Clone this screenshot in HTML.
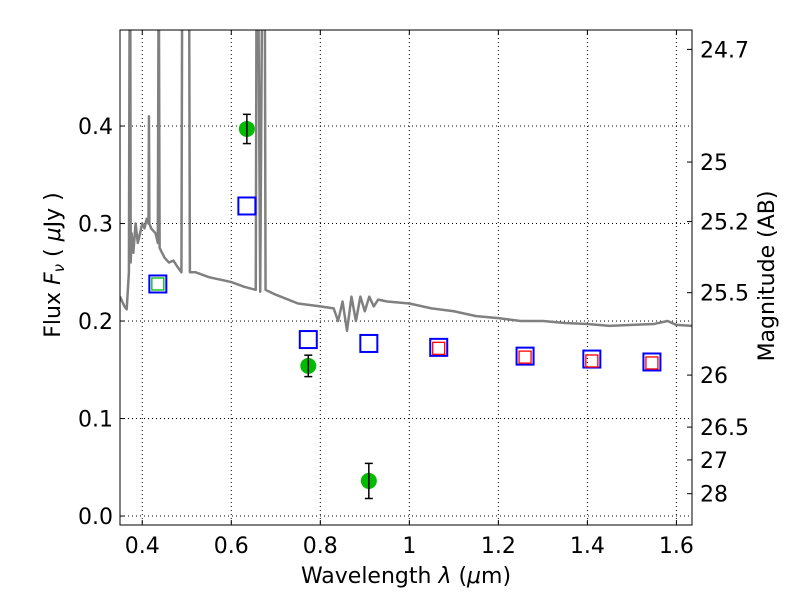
<!DOCTYPE html>
<html><head><meta charset="utf-8"><style>body{margin:0;background:#fff}svg text{font-family:"DejaVu Sans","Liberation Sans",sans-serif}</style></head>
<body>
<svg id="chart" width="800" height="600"></svg>
<script>
const xTicks=[0.4,0.6,0.8,1.0,1.2,1.4,1.6];
const xTickLabels=["0.4","0.6","0.8","1","1.2","1.4","1.6"];
const yTicks=[0,0.1,0.2,0.3,0.4];
const yTickLabels=["0.0","0.1","0.2","0.3","0.4"];
const magTicks=[24.7,25,25.2,25.5,26,26.5,27,28];
const specWave=[0.35,0.36,0.365,0.37,0.372,0.373,0.374,0.376,0.38,0.385,0.39,0.395,0.40,0.405,0.41,0.414,0.415,0.416,0.42,0.43,0.435,0.437,0.439,0.45,0.46,0.47,0.48,0.488,0.49,0.495,0.50,0.505,0.507,0.52,0.55,0.60,0.63,0.655,0.657,0.66,0.665,0.67,0.675,0.677,0.70,0.75,0.80,0.83,0.84,0.85,0.86,0.87,0.88,0.89,0.90,0.91,0.92,0.93,0.95,1.0,1.05,1.1,1.15,1.2,1.25,1.3,1.35,1.4,1.45,1.5,1.55,1.58,1.6,1.635];
const specFlux=[0.225,0.215,0.212,0.25,0.6,0.6,0.26,0.29,0.27,0.3,0.28,0.29,0.3,0.295,0.305,0.3,0.41,0.3,0.295,0.29,0.28,0.6,0.275,0.265,0.26,0.262,0.255,0.25,0.6,0.6,0.6,0.6,0.25,0.25,0.245,0.24,0.235,0.232,0.6,0.6,0.23,0.6,0.6,0.232,0.227,0.218,0.215,0.213,0.2,0.22,0.19,0.225,0.2,0.225,0.21,0.225,0.215,0.222,0.22,0.218,0.213,0.21,0.205,0.203,0.2,0.2,0.198,0.197,0.195,0.196,0.197,0.2,0.196,0.195];
const photWave=[0.635,0.773,0.909];
const photFlux=[0.397,0.154,0.036];
const photErr=[0.015,0.011,0.018];
const modelWave=[0.435,0.635,0.773,0.909,1.066,1.26,1.41,1.545];
const modelFlux=[0.238,0.318,0.181,0.177,0.173,0.164,0.161,0.158];
const redWave=[1.066,1.26,1.41,1.545];
const redFlux=[0.172,0.163,0.159,0.157];
const greenWave=[0.435];
const greenFlux=[0.238];

const L=120,R=692,T=30,B=525,xmin=0.35,xmax=1.635,ymin=-0.0092,ymax=0.4985;
const X=v=>L+(v-xmin)/(xmax-xmin)*(R-L);
const Y=v=>B-(v-ymin)/(ymax-ymin)*(B-T);
const svg=document.getElementById('chart');
const NS='http://www.w3.org/2000/svg';
function mk(tag,attrs,parent){const e=document.createElementNS(NS,tag);for(const k in attrs)e.setAttribute(k,attrs[k]);(parent||svg).appendChild(e);return e;}
const defs=mk('defs',{});const cp=mk('clipPath',{id:'clip'},defs);mk('rect',{x:L,y:T,width:R-L,height:B-T},cp);

xTicks.forEach((t,i)=>{const x=X(t);
 const g=mk('line',{x1:x,x2:x,y1:T,y2:B,stroke:'#000','stroke-dasharray':'1,3','stroke-width':1});
 
 mk('line',{x1:x,x2:x,y1:B,y2:B-5,stroke:'#000'});mk('line',{x1:x,x2:x,y1:T,y2:T+5,stroke:'#000'});
 const tx=mk('text',{x:x,y:B+28,'font-size':22,'text-anchor':'middle'});tx.textContent=xTickLabels[i];
 });
yTicks.forEach((t,i)=>{const y=Y(t);
 const g=mk('line',{x1:L,x2:R,y1:y,y2:y,stroke:'#000','stroke-dasharray':'1,3','stroke-width':1});
 
 mk('line',{x1:L,x2:L+5,y1:y,y2:y,stroke:'#000'});
 const tx=mk('text',{x:L-7,y:y+8,'font-size':22,'text-anchor':'end'});tx.textContent=yTickLabels[i];
 });
magTicks.forEach(m=>{const f=Math.pow(10,(23.9-m)/2.5);const y=Y(f);
 mk('line',{x1:R,x2:R-5,y1:y,y2:y,stroke:'#000'});
 const tx=mk('text',{x:R+8,y:y+8,'font-size':22});tx.textContent=String(m);
 });

const pg=mk('g',{'clip-path':'url(#clip)'});
const sp=mk('polyline',{points:specWave.map((w,i)=>X(w)+','+Y(specFlux[i])).join(' '),fill:'none',stroke:'#808080','stroke-width':2.5,'stroke-linejoin':'round'},pg);

modelWave.forEach((w,i)=>{const r=mk('rect',{x:X(w)-8.5,y:Y(modelFlux[i])-8.5,width:17,height:17,fill:'none',stroke:'#0000ff','stroke-width':2},pg);
 });
redWave.forEach((w,i)=>{const r=mk('rect',{x:X(w)-6,y:Y(redFlux[i])-6,width:12,height:12,fill:'none',stroke:'#ff0000','stroke-width':1.3},pg);
 });
greenWave.forEach((w,i)=>{const r=mk('rect',{x:X(w)-6,y:Y(greenFlux[i])-6,width:12,height:12,fill:'none',stroke:'#00bb00','stroke-width':1.3},pg);
 });
photWave.forEach((w,i)=>{const x=X(w);
 const c=mk('circle',{cx:x,cy:Y(photFlux[i]),r:8,fill:'#00bb00'},pg);
 
 const y1=Y(photFlux[i]+photErr[i]),y2=Y(photFlux[i]-photErr[i]);
 const e=mk('line',{x1:x,x2:x,y1:y1,y2:y2,stroke:'#000','stroke-width':1.5},pg);
 
 mk('line',{x1:x-4,x2:x+4,y1:y1,y2:y1,stroke:'#000','stroke-width':1.5},pg);
 mk('line',{x1:x-4,x2:x+4,y1:y2,y2:y2,stroke:'#000','stroke-width':1.5},pg);});

const fr=mk('rect',{x:L,y:T,width:R-L,height:B-T,fill:'none',stroke:'#000','stroke-width':1});

let t=mk('text',{x:406,y:583,'font-size':22,'text-anchor':'middle'});t.innerHTML='Wavelength  <tspan font-style="italic">λ</tspan> (<tspan font-style="italic">μ</tspan>m)';

t=mk('text',{x:0,y:0,'font-size':22,'text-anchor':'middle',transform:'translate(60,265) rotate(-90)'});t.innerHTML='Flux  <tspan font-style="italic">F</tspan><tspan font-style="italic" font-size="15" dy="4">ν</tspan><tspan dy="-4">  ( </tspan><tspan font-style="italic">μ</tspan>Jy )';

t=mk('text',{x:0,y:0,'font-size':22,'text-anchor':'middle',transform:'translate(774,276) rotate(-90)'});t.textContent='Magnitude (AB)';

</script>
</body></html>
